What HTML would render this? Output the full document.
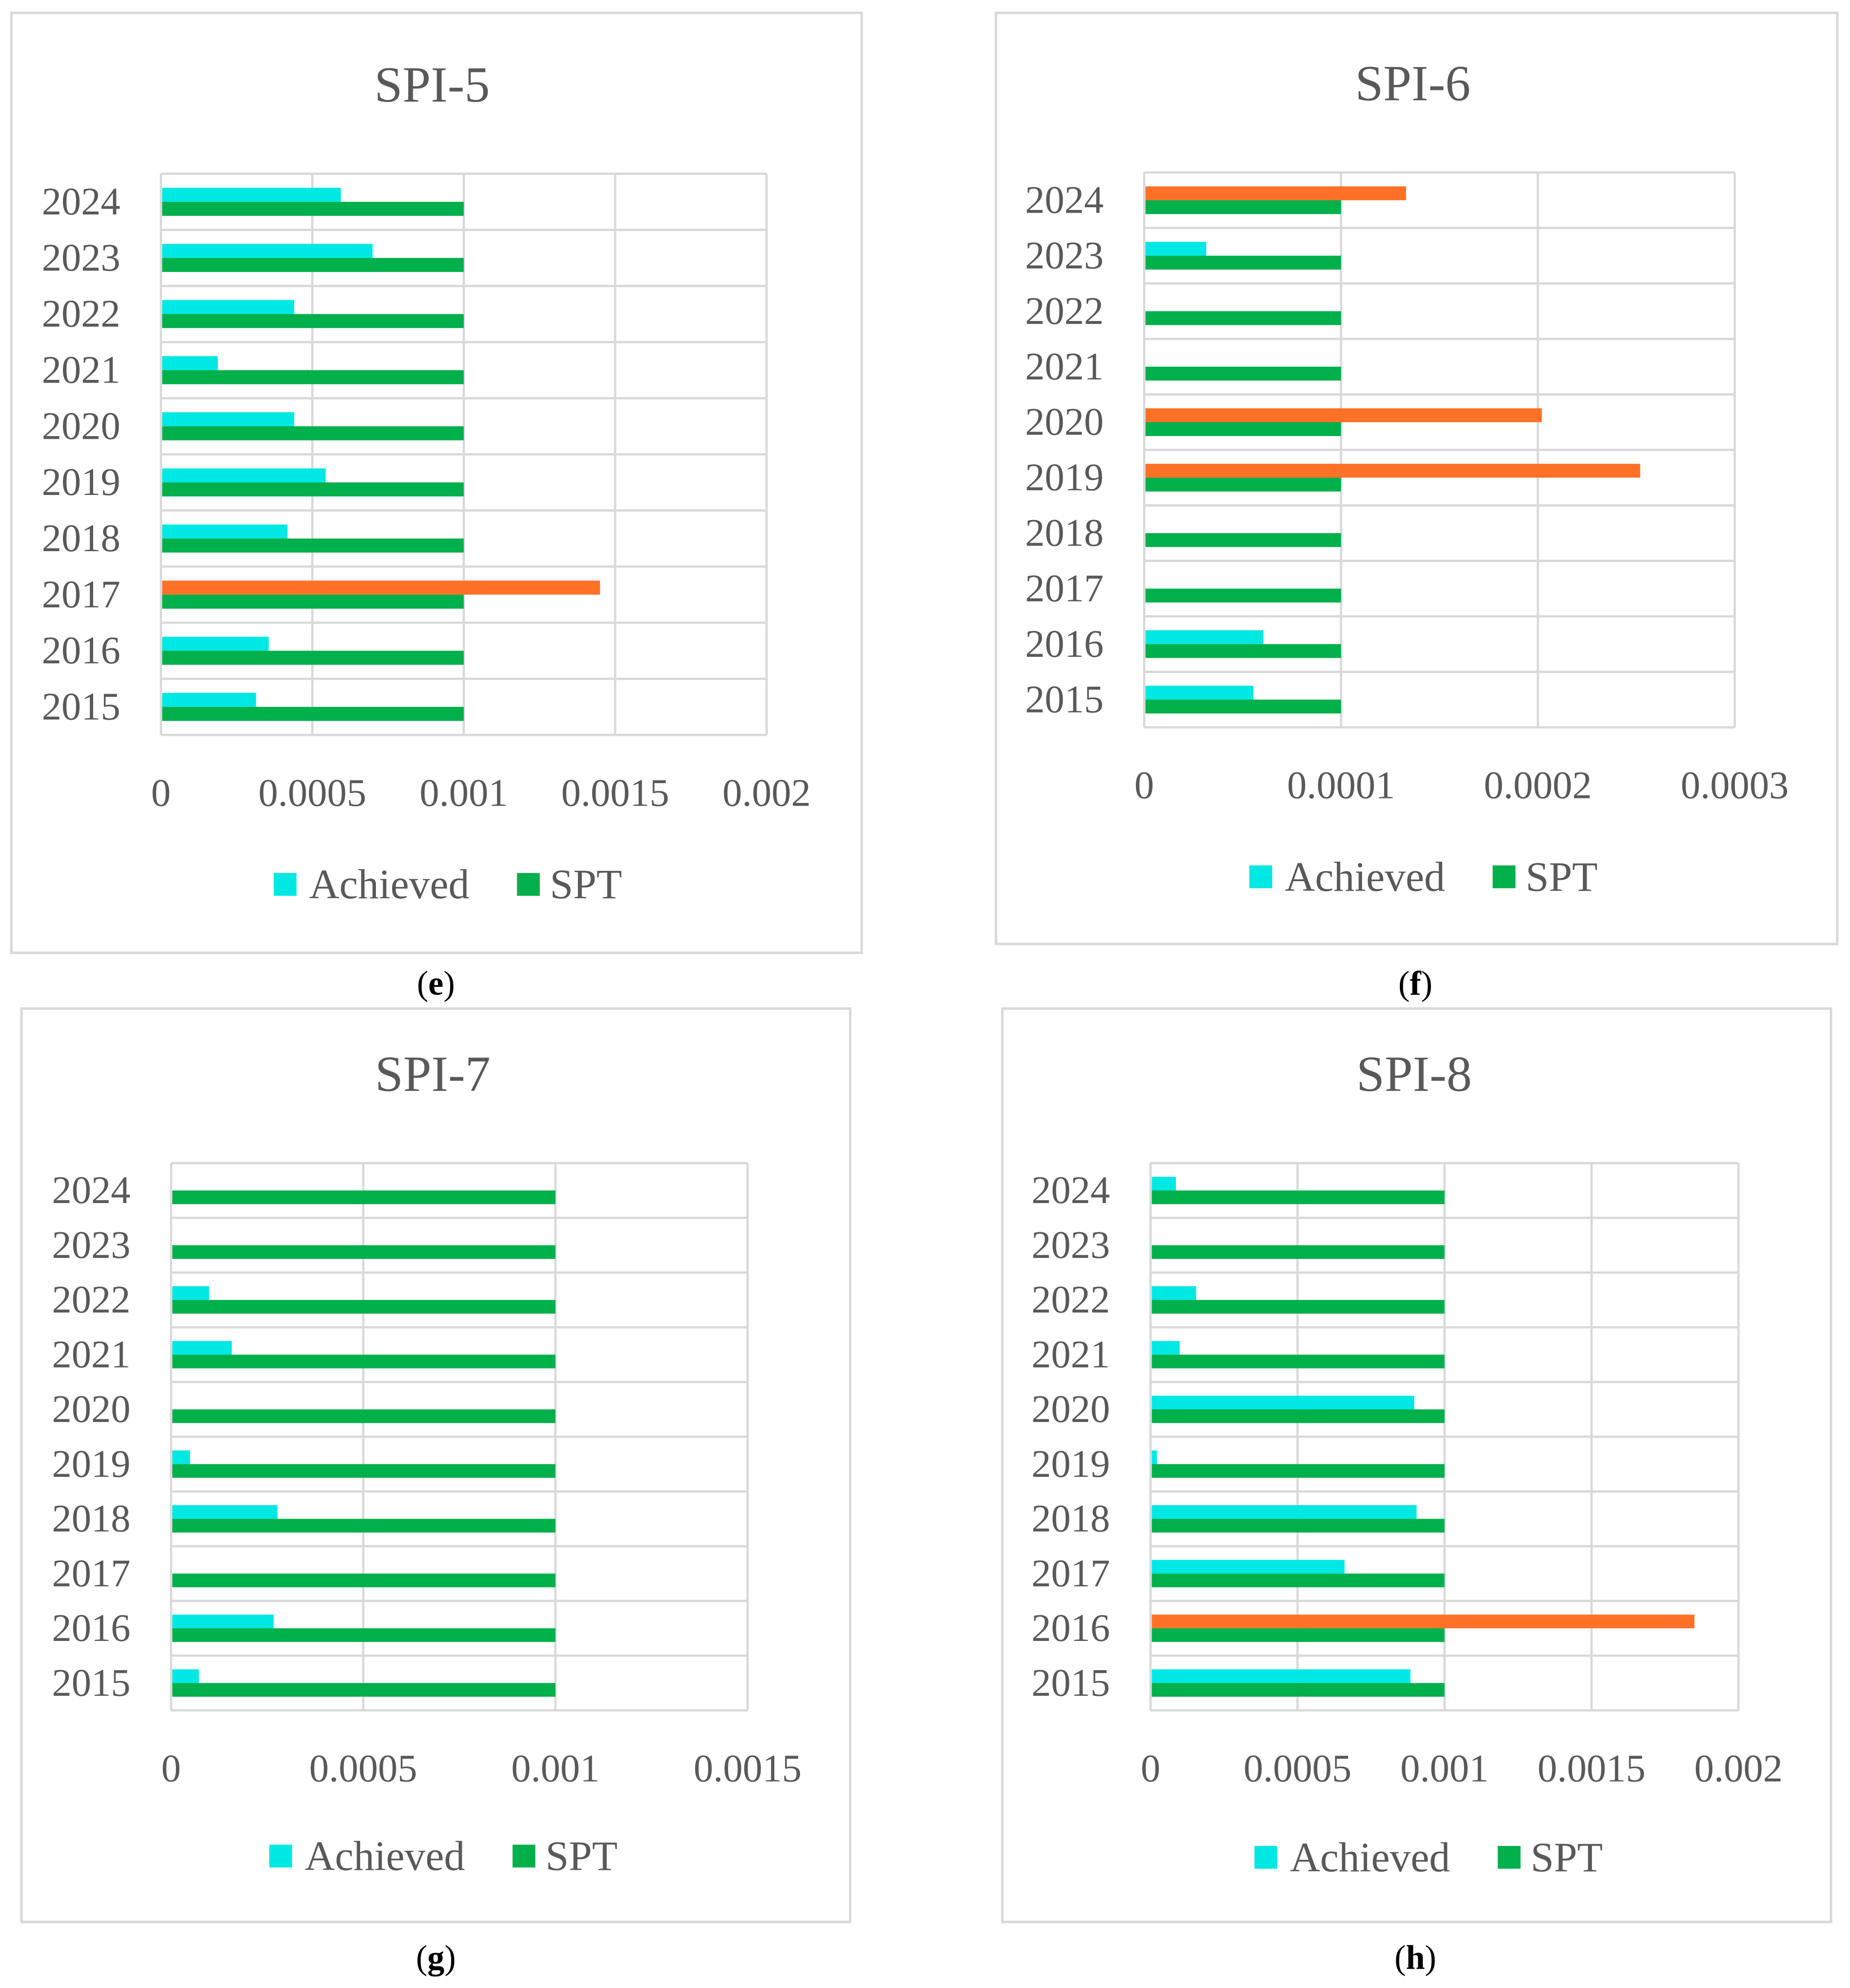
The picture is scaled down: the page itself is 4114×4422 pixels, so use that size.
<!DOCTYPE html>
<html><head><meta charset="utf-8"><style>
html,body{margin:0;padding:0;background:#fff}
svg{display:block}
text{font-family:"Liberation Serif",serif}
</style></head><body>
<svg id="fig" width="4114" height="4422" viewBox="0 0 1460 1569" xmlns="http://www.w3.org/2000/svg"></svg>
<script>
const years = ["2015","2016","2017","2018","2019","2020","2021","2022","2023","2024"];
const spi5Achieved = [0.000314,0.000356,0.00145,0.000418,0.000544,0.00044,0.000188,0.00044,0.000699,0.000594];
const spi5Spt = [0.001,0.001,0.001,0.001,0.001,0.001,0.001,0.001,0.001,0.001];
const spi5Ticks = ["0","0.0005","0.001","0.0015","0.002"];
const spi6Achieved = [0.0000554,0.0000605,0,0,0.000252,0.000202,0,0,0.0000315,0.000133];
const spi6Spt = [0.0001,0.0001,0.0001,0.0001,0.0001,0.0001,0.0001,0.0001,0.0001,0.0001];
const spi6Ticks = ["0","0.0001","0.0002","0.0003"];
const spi7Achieved = [0.0000725,0.000267,0,0.000277,0.0000495,0,0.000158,0.0000989,0,0];
const spi7Spt = [0.001,0.001,0.001,0.001,0.001,0.001,0.001,0.001,0.001,0.001];
const spi7Ticks = ["0","0.0005","0.001","0.0015"];
const spi8Achieved = [0.000884,0.00185,0.00066,0.000905,0.0000216,0.000897,0.0000991,0.000155,0,0.0000862];
const spi8Spt = [0.001,0.001,0.001,0.001,0.001,0.001,0.001,0.001,0.001,0.001];
const spi8Ticks = ["0","0.0005","0.001","0.0015","0.002"];

const NS="http://www.w3.org/2000/svg";
const svg=document.getElementById('fig');
function mk(tag,attrs,parent){const e=document.createElementNS(NS,tag);for(const k in attrs)e.setAttribute(k,attrs[k]);(parent||svg).appendChild(e);return e;}

function panel(cfg){
  const g=mk('g',{});
  
  
  const fr=mk('rect',{x:cfg.fx,y:cfg.fy,width:cfg.fw,height:cfg.fh,fill:'#fff',stroke:'#d9d9d9','stroke-width':2},g);
  
  
  const L=cfg.px0,R=cfg.px1,T=cfg.py0,B=cfg.py1;
  const xmax=parseFloat(cfg.ticks[cfg.ticks.length-1]);
  const xs=v=>L+(v/xmax)*(R-L);
  const n=years.length, band=(B-T)/n;
  for(let i=0;i<=n;i++){
    const y=T+i*band;
    const gl=mk('line',{x1:L,x2:R,y1:y,y2:y,stroke:'#d9d9d9','stroke-width':1.8},g);
    
    
  }
  cfg.ticks.forEach((t)=>{
    const x=xs(parseFloat(t));
    const vl=mk('line',{x1:x,x2:x,y1:T,y2:B,stroke:'#d9d9d9','stroke-width':1.8},g);
    
    
    const tl=mk('text',{x:x,y:B+56,'text-anchor':'middle','font-size':31,fill:'#595959'},g);
    tl.textContent=t;
    
    
  });
  years.forEach((yr,i)=>{
    const top=T+(n-1-i)*band;
    const yl=mk('text',{x:L-32,y:top+band/2+10,'text-anchor':'end','font-size':31,fill:'#595959'},g);
    yl.textContent=yr;
    
    
    const a=cfg.ach[i], s=cfg.spt[i];
    if(a>0){
      const ab=mk('rect',{x:L+1,y:top+band*0.25,width:Math.max(0,xs(a)-L-1),height:band*0.25,fill:a>s?'#ff7126':'#00e8e4'},g);
      
      
    }
    const sb=mk('rect',{x:L+1,y:top+band*0.5,width:xs(s)-L-1,height:band*0.25,fill:'#00b04a'},g);
    
    
  });
  const cx=(L+R)/2;
  const ti=mk('text',{x:cx-22+cfg.tdx,y:T-57,'text-anchor':'middle','font-size':40,fill:'#595959'},g);
  ti.textContent=cfg.title;
  
  
  const ly=B+cfg.leg;
  const s1=mk('rect',{x:cx-150,y:ly-9,width:18,height:18,fill:'#00e8e4'},g);
  
  
  const t1=mk('text',{x:cx-122,y:ly+11,'font-size':33,fill:'#595959'},g);
  t1.textContent='Achieved';
  
  
  const s2=mk('rect',{x:cx+42,y:ly-9,width:18,height:18,fill:'#00b04a'},g);
  
  
  const t2=mk('text',{x:cx+68,y:ly+11,'font-size':33,fill:'#595959'},g);
  t2.textContent='SPT';
  
  
  const cap=mk('text',{x:cfg.capx,y:cfg.capy+9,'text-anchor':'middle','font-size':27,fill:'#000'},g);
  cap.innerHTML='(<tspan font-weight="bold">'+cfg.letter+'</tspan>)';
  
  
}
panel({id:'spi5',title:'SPI-5',letter:'e',fx:9,fy:10,fw:671,fh:742,px0:127,px1:605,py0:137,py1:580,ach:spi5Achieved,spt:spi5Spt,ticks:spi5Ticks,leg:118,capx:344,capy:776,tdx:-3});
panel({id:'spi6',title:'SPI-6',letter:'f',fx:786,fy:10,fw:664,fh:735,px0:903,px1:1369,py0:136,py1:574,ach:spi6Achieved,spt:spi6Spt,ticks:spi6Ticks,leg:118,capx:1117,capy:776,tdx:1});
panel({id:'spi7',title:'SPI-7',letter:'g',fx:17,fy:796,fw:654,fh:721,px0:135,px1:590,py0:918,py1:1350,ach:spi7Achieved,spt:spi7Spt,ticks:spi7Ticks,leg:115,capx:344,capy:1545,tdx:1});
panel({id:'spi8',title:'SPI-8',letter:'h',fx:791,fy:796,fw:654,fh:721,px0:908,px1:1372,py0:918,py1:1350,ach:spi8Achieved,spt:spi8Spt,ticks:spi8Ticks,leg:116,capx:1117,capy:1545,tdx:-2});
</script>
</body></html>
